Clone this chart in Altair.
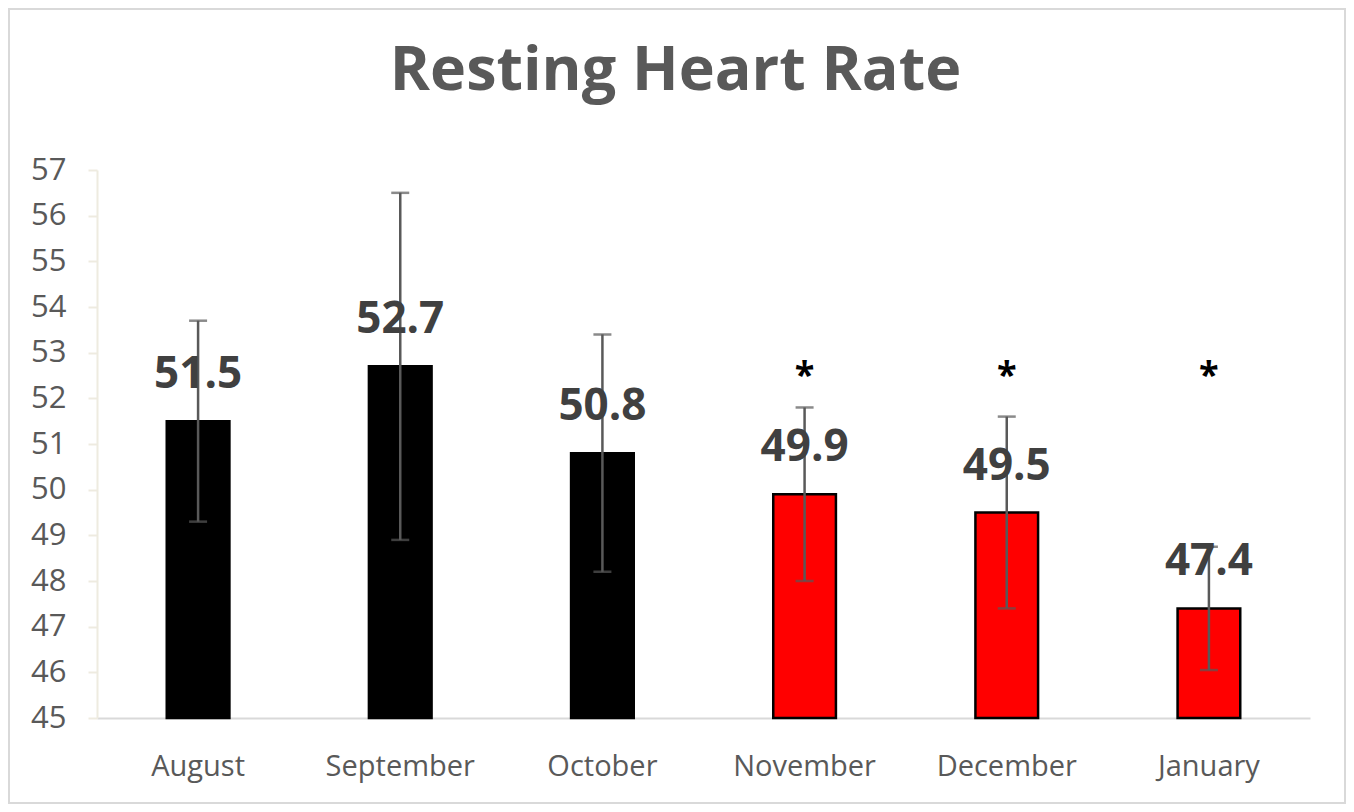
import altair as alt
import pandas as pd

months = ["August", "September", "October", "November", "December", "January"]
means = [51.5, 52.7, 50.8, 49.9, 49.5, 47.4]
errors = [2.2, 3.8, 2.6, 1.9, 2.1, 1.35]
significant = [False, False, False, True, True, True]
y_ticks = [45, 46, 47, 48, 49, 50, 51, 52, 53, 54, 55, 56, 57]
y_min, y_max = 45, 57
asterisk_level = 52.25

df = pd.DataFrame({
    "month": months,
    "mean": means,
    "lower": [m - e for m, e in zip(means, errors)],
    "upper": [m + e for m, e in zip(means, errors)],
    "sig": significant,
    "label": [f"{m:.1f}" for m in means],
})
df["star"] = ["*" if s else "" for s in significant]
df["star_y"] = asterisk_level

FONT = "Open Sans"
W, H = 1213, 548

x = alt.X("month:N", sort=months, title=None,
          scale=alt.Scale(paddingInner=0.69, paddingOuter=0.345),
          axis=alt.Axis(labelAngle=0, labelFontSize=29, labelColor="#595959",
                        labelFont=FONT, labelPadding=34, ticks=False,
                        domainColor="#D9D9D9", domainWidth=2))
y = alt.Y("mean:Q", title=None,
          scale=alt.Scale(domain=[y_min, y_max], nice=False, zero=False),
          axis=alt.Axis(values=y_ticks, grid=False, labelFontSize=31,
                        labelColor="#595959", labelFont=FONT, labelPadding=22,
                        tickSize=9, tickColor="#EEEBE0", tickWidth=2,
                        domainColor="#EEEBE0", domainWidth=2))

base = alt.Chart(df)

bars = base.mark_bar(strokeWidth=2.5, stroke="black").encode(
    x=x, y=y, y2=alt.datum(y_min),
    color=alt.condition("datum.sig", alt.value("#FF0000"), alt.value("#000000")),
)

err_rule = base.mark_rule(color="#595959", strokeWidth=2.5).encode(
    x=alt.X("month:N", sort=months), y=alt.Y("lower:Q"), y2="upper:Q")
cap_lo = base.mark_tick(color="#595959", orient="horizontal", size=18,
                        thickness=2.5).encode(
    x=alt.X("month:N", sort=months), y=alt.Y("lower:Q"))
cap_hi = base.mark_tick(color="#595959", orient="horizontal", size=18,
                        thickness=2.5).encode(
    x=alt.X("month:N", sort=months), y=alt.Y("upper:Q"))

labels = base.mark_text(font=FONT, fontSize=44, fontWeight="bold",
                        color="#404040", baseline="alphabetic", dy=-33).encode(
    x=alt.X("month:N", sort=months), y=alt.Y("mean:Q"), text="label:N")

stars = base.mark_text(font=FONT, fontSize=36, fontWeight="bold",
                       color="#000000", baseline="alphabetic").encode(
    x=alt.X("month:N", sort=months), y=alt.Y("star_y:Q"), text="star:N")

frame = alt.Chart(pd.DataFrame({"k": [0]})).mark_rect(
    fill=None, stroke="#D9D9D9", strokeWidth=2).encode(
    x=alt.value(-88), x2=alt.value(W + 35),
    y=alt.value(-161), y2=alt.value(H + 85))

chart = alt.layer(frame, bars, err_rule, cap_lo, cap_hi, labels, stars).properties(
    width=W, height=H,
    background="white",
    title=alt.TitleParams("Resting Heart Rate", font=FONT, fontSize=61,
                          fontWeight="bold", color="#595959", offset=-95,
                          anchor="middle", frame="group", dx=-28),
    autosize=alt.AutoSizeParams(type="none"),
    padding={"left": 89, "top": 162, "right": 36, "bottom": 86},
).configure_view(strokeWidth=0, stroke="transparent")

chart.save("out.html", embed_options={"renderer": "svg", "actions": False})
